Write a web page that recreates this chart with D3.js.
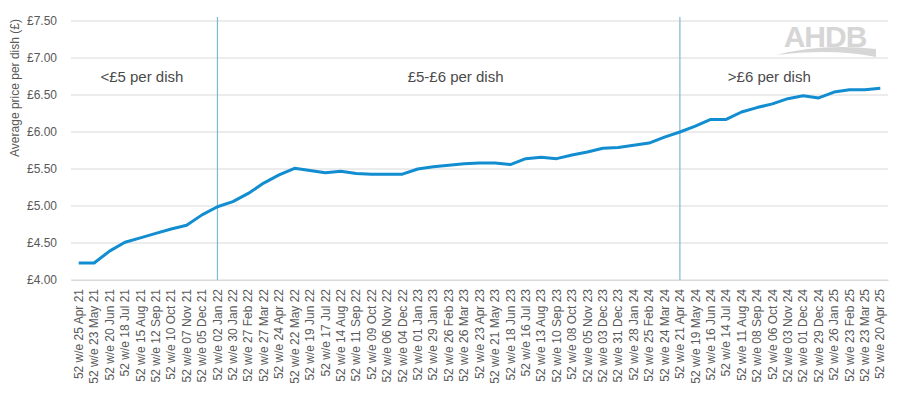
<!DOCTYPE html>
<html>
<head>
<meta charset="utf-8">
<script src="https://cdn.jsdelivr.net/npm/d3@7"></script>
<style>
  body { margin: 0; background: #fff; }
  text { font-family: "Liberation Sans", Arial, sans-serif; }
</style>
</head>
<body>
<svg id="canvas" width="900" height="396"></svg>
<script>
// week ending labels (52 w/e)
let weekLabels = ['25 Apr 21','23 May 21','20 Jun 21','18 Jul 21','15 Aug 21','12 Sep 21','10 Oct 21','07 Nov 21','05 Dec 21','02 Jan 22',
  '30 Jan 22','27 Feb 22','27 Mar 22','24 Apr 22','22 May 22','19 Jun 22','17 Jul 22','14 Aug 22','11 Sep 22','09 Oct 22',
  '06 Nov 22','04 Dec 22','01 Jan 23','29 Jan 23','26 Feb 23','26 Mar 23','23 Apr 23','21 May 23','18 Jun 23','16 Jul 23',
  '13 Aug 23','10 Sep 23','08 Oct 23','05 Nov 23','03 Dec 23','31 Dec 23','28 Jan 24','25 Feb 24','24 Mar 24','21 Apr 24',
  '19 May 24','16 Jun 24','14 Jul 24','11 Aug 24','08 Sep 24','06 Oct 24','03 Nov 24','01 Dec 24','29 Dec 24','26 Jan 25',
  '23 Feb 25','23 Mar 25','20 Apr 25']

let pricePerDish = [4.23,4.23,4.39,4.51,4.57,4.63,4.69,4.74,4.88,4.99,
  5.06,5.17,5.31,5.42,5.51,5.48,5.45,5.47,5.44,5.43,
  5.43,5.43,5.50,5.53,5.55,5.57,5.58,5.58,5.56,5.64,
  5.66,5.64,5.69,5.73,5.78,5.79,5.82,5.85,5.93,6.00,
  6.08,6.17,6.17,6.27,6.33,6.38,6.45,6.49,6.46,6.54,
  6.57,6.57,6.59]

let yTicks = [4, 4.5, 5, 5.5, 6, 6.5, 7, 7.5]

// band boundaries and their labels
let boundaryWeeks = ['02 Jan 22', '21 Apr 24']
let bandNames = ['<£5 per dish', '£5-£6 per dish', '>£6 per dish']
let bandLabelWeeks = ['15 Aug 21', '26 Feb 23', '11 Aug 24']
let bandLabelShift = [0.1, 0.45, 1.8]
let bandLabelValue = 6.67

let canvas = d3.select('#canvas')

let xScale = d3.scaleBand()
  .domain(weekLabels)
  .range([71, 888])

let yScale = d3.scaleLinear()
  .domain([4, 7.5])
  .range([280, 21])

let xPos = (w) => xScale(w) + xScale.bandwidth() / 2

// gridlines
canvas.append('g')
  .selectAll('line')
  .data(yTicks)
  .enter()
  .append('line')
  .attr('x1', 71)
  .attr('x2', 888)
  .attr('y1', (d) => yScale(d))
  .attr('y2', (d) => yScale(d))
  .attr('stroke', '#d9d9d9')
  .attr('stroke-width', 1)

// watermark
let logo = canvas.append('g').attr('fill', '#d6d6d6')
logo.append('text')
  .attr('x', 825)
  .attr('y', 47)
  .attr('text-anchor', 'middle')
  .style('font-size', '30px')
  .style('font-weight', 'bold')
  .style('letter-spacing', '-1px')
  .text('AHDB')
logo.append('path')
  .attr('d', 'M776,55 Q822,43 876,49 L876,57 Q832,48 776,55 Z')

// y axis
let yAxis = d3.axisLeft(yScale)
  .tickValues(yTicks)
  .tickSize(0)
  .tickPadding(14)
  .tickFormat((d) => '£' + d3.format('.2f')(d))

canvas.append('g')
  .attr('transform', 'translate(71,0)')
  .call(yAxis)
  .call((g) => g.select('.domain').remove())
  .selectAll('text')
  .attr('fill', '#595959')
  .style('font-size', '12px')
  .style('font-family', '"Liberation Sans", Arial, sans-serif')

canvas.append('text')
  .attr('transform', 'translate(19,88) rotate(-90)')
  .attr('text-anchor', 'middle')
  .attr('fill', '#595959')
  .style('font-size', '12px')
  .text('Average price per dish (£)')

// x axis
let xAxis = d3.axisBottom(xScale)
  .tickSize(0)
  .tickPadding(0)
  .tickFormat((d) => '52 w/e ' + d)

canvas.append('g')
  .attr('transform', 'translate(0,280)')
  .call(xAxis)
  .call((g) => g.select('.domain').attr('stroke', '#d9d9d9'))
  .selectAll('text')
  .attr('transform', 'rotate(-90)')
  .attr('text-anchor', 'end')
  .attr('x', -9)
  .attr('y', 0)
  .attr('dy', '0.35em')
  .attr('fill', '#595959')
  .style('font-size', '12px')
  .style('font-family', '"Liberation Sans", Arial, sans-serif')

// band boundaries
canvas.append('g')
  .selectAll('line')
  .data(boundaryWeeks)
  .enter()
  .append('line')
  .attr('x1', (w) => xPos(w))
  .attr('x2', (w) => xPos(w))
  .attr('y1', yScale(7.5) - 4)
  .attr('y2', yScale(4))
  .attr('stroke', '#7dbad3')
  .attr('stroke-width', 1.2)

// band labels
canvas.append('g')
  .selectAll('text')
  .data(bandNames)
  .enter()
  .append('text')
  .attr('x', (d, i) => xPos(bandLabelWeeks[i]) + bandLabelShift[i] * xScale.bandwidth())
  .attr('y', yScale(bandLabelValue))
  .attr('text-anchor', 'middle')
  .attr('fill', '#4a4a4a')
  .style('font-size', '15px')
  .text((d) => d)

// price line
let line = d3.line()
  .x((d, i) => xPos(weekLabels[i]))
  .y((d) => yScale(d))

canvas.append('path')
  .datum(pricePerDish)
  .attr('d', line)
  .attr('fill', 'none')
  .attr('stroke', '#118dd0')
  .attr('stroke-width', 3)
  .attr('stroke-linejoin', 'round')
</script>
</body>
</html>
